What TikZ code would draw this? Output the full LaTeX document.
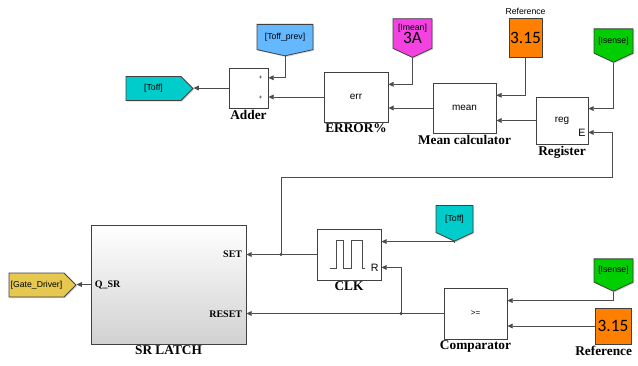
\documentclass[tikz,border=0pt]{standalone}
\usepackage{fontspec}
\setmainfont{Liberation Serif}
\setsansfont{Liberation Sans}
\newfontfamily\calib{Carlito}
\usetikzlibrary{positioning,shapes.symbols,arrows.meta,calc,shadows}

\definecolor{tagcyan}{RGB}{0,204,204}
\definecolor{tagblue}{RGB}{100,184,255}
\definecolor{tagmagenta}{RGB}{244,66,226}
\definecolor{taggreen}{RGB}{0,206,0}
\definecolor{tagyellow}{RGB}{230,200,80}
\definecolor{cstorange}{RGB}{255,128,0}

\begin{document}
\begin{tikzpicture}[x=0.75pt,y=0.75pt,yscale=-1,xscale=1,
  shd/.style={drop shadow={shadow xshift=0.9pt,shadow yshift=-0.9pt,opacity=0.3}},
  blk/.style={draw=black!75, fill=white, line width=0.6pt, inner sep=0pt, font=\sffamily\fontsize{7.5}{8}\selectfont, shd},
  tagr/.style={signal, signal to=east, signal pointer angle=90, draw=black!75, line width=0.6pt, inner sep=1pt, font=\sffamily\fontsize{6.5}{7}\selectfont, shd},
  tagd/.style={signal, signal to=south, signal pointer angle=130, draw=black!75, line width=0.6pt, inner sep=1pt, font=\sffamily\fontsize{6.5}{7}\selectfont, shd},
  cst/.style={draw=black!75, fill=cstorange, line width=0.6pt, inner sep=0pt, font=\calib\fontsize{13}{13}\selectfont, shd},
  lbl/.style={font=\bfseries\fontsize{10}{11}\selectfont, inner sep=1pt},
  port/.style={font=\bfseries\fontsize{7.5}{8}\selectfont, inner sep=1pt},
  sig/.style={draw=black!70, line width=0.6pt, -{Triangle[length=4pt,width=3.6pt]}},
  dot/.style={circle, fill=black!75, inner sep=0pt, minimum size=2.6pt}]
\useasboundingbox (0,0) rectangle (638,365);

% top row: register -> mean -> error -> adder
\node[tagr, fill=tagcyan, minimum width=67*0.75pt, minimum height=24*0.75pt] (toffA) at (153.5,88.5) {[Toff]};
\node[blk, minimum width=39*0.75pt, minimum height=40*0.75pt] (adder) at (248.5,88) {};
\node[tagd, fill=tagblue, signal pointer angle=155, minimum width=56*0.75pt, minimum height=30*0.75pt] (toffprev) at (285,37) {[Toff\_prev]};
\node[blk, minimum width=64*0.75pt, minimum height=50*0.75pt] (err) at (356,97) {err};
\node[tagd, fill=tagmagenta, align=center, minimum width=39*0.75pt, minimum height=37*0.75pt] (imean) at (412.5,33.5) {[Imean]\\[-1pt]{\calib\fontsize{13}{13}\selectfont 3A}};
\node[blk, minimum width=63*0.75pt, minimum height=50*0.75pt] (mean) at (464.5,108) {mean};
\node[cst, minimum width=33*0.75pt, minimum height=39*0.75pt] (ref1) at (525.5,37.5) {3.15};
\node[blk, minimum width=52*0.75pt, minimum height=47*0.75pt] (reg) at (562,120.5) {reg};
\node[tagd, fill=taggreen, minimum width=39*0.75pt, minimum height=32*0.75pt] (isense1) at (613.5,41) {[Isense]};

% bottom row: comparator -> clock -> latch
\node[tagr, fill=tagyellow, minimum width=67*0.75pt, minimum height=24*0.75pt] (gate) at (36.5,285) {[Gate\_Driver]};
\node[blk, top color=white, bottom color=black!18, minimum width=155*0.75pt, minimum height=119*0.75pt] (latch) at (168.5,284.5) {};
\node[blk, minimum width=64*0.75pt, minimum height=51*0.75pt] (clk) at (349,254.5) {};
\node[tagd, fill=tagcyan, minimum width=37*0.75pt, minimum height=32*0.75pt] (toff2) at (454.5,219) {[Toff]};
\node[blk, minimum width=63*0.75pt, minimum height=51*0.75pt] (comp) at (475.5,313.5) {\fontsize{6}{7}\selectfont >=};
\node[tagd, fill=taggreen, minimum width=39*0.75pt, minimum height=31*0.75pt] (isense2) at (613.5,270.5) {[Isense]};
\node[cst, minimum width=36*0.75pt, minimum height=36*0.75pt] (ref2) at (613,326) {3.15};

% input ports
\coordinate (adderIn1) at ($(adder.north east)!0.25!(adder.south east)$);
\coordinate (adderIn2) at ($(adder.north east)!0.75!(adder.south east)$);
\coordinate (errIn1) at ($(err.north east)!0.25!(err.south east)$);
\coordinate (meanIn1) at ($(mean.north east)!0.25!(mean.south east)$);
\coordinate (regIn1) at ($(reg.north east)!0.25!(reg.south east)$);
\coordinate (regIn2) at ($(reg.north east)!0.75!(reg.south east)$);
\coordinate (latchIn1) at ($(latch.north east)!0.25!(latch.south east)$);
\coordinate (latchIn2) at ($(latch.north east)!0.75!(latch.south east)$);
\coordinate (clkIn1) at ($(clk.north east)!0.25!(clk.south east)$);
\coordinate (clkIn2) at ($(clk.north east)!0.75!(clk.south east)$);
\coordinate (compIn1) at ($(comp.north east)!0.25!(comp.south east)$);
\coordinate (eTurn) at (612,177);

% block names
\node[lbl, below=0pt of adder] (adderName) {Adder};
\node[lbl, below=0pt of err] (errName) {ERROR\%};
\node[lbl, below=0pt of mean] (meanName) {Mean calculator};
\node[lbl, below=0pt of reg] (regName) {Register};
\node[font=\sffamily\fontsize{6.5}{7}\selectfont, inner sep=1pt, above=1pt of ref1] (ref1Name) {Reference};
\node[lbl, below=0pt of latch] (latchName) {SR LATCH};
\node[lbl, below=0pt of clk] (clkName) {CLK};
\node[lbl, below=0pt of comp] (compName) {Comparator};
\node[lbl, below=0pt of ref2, xshift=-7pt] (ref2Name) {Reference};

% port texts
\node[font=\sffamily\fontsize{4.5}{4.5}\selectfont, left=1pt of adderIn1] (plus1) {+};
\node[font=\sffamily\fontsize{4.5}{4.5}\selectfont, left=1pt of adderIn2] (plus2) {+};
\node[font=\sffamily\fontsize{8}{8}\selectfont, inner sep=0pt, left=2pt of regIn2] (regE) {E};
\node[font=\sffamily\fontsize{8}{8}\selectfont, inner sep=0pt, left=2pt of clkIn2] (clkR) {R};
\node[port, left=2pt of latchIn1] (setTxt) {SET};
\node[port, left=2pt of latchIn2] (resetTxt) {RESET};
\node[port, right=2pt of latch.west] (qTxt) {Q\_SR};

% pulse symbol
\draw[black!70, line width=0.6pt, shift={(clk.center)}] (-19,13.5) -- (-13,13.5) -- (-13,-14.5) -- (-6,-14.5) -- (-6,13.5) -- (2,13.5) -- (2,-14.5) -- (13,-14.5) -- (13,13.5) -- (16,13.5);

% connectors
\draw[sig] (adder.west) -- (adder.west -| toffA.east);
\draw[sig] (toffprev.south) |- (adderIn1);
\draw[sig] (err.west) -- (err.west -| adder.east);
\draw[sig] (imean.south) |- (errIn1);
\draw[sig] (mean.west) -- (mean.west -| err.east);
\draw[sig] (ref1.south) |- (meanIn1);
\draw[sig] (reg.west) -- (reg.west -| mean.east);
\draw[sig] (isense1.south) |- (regIn1);

\draw[sig] (clk.west) -- (clk.west -| latch.east);
\node[dot] (j1) at (clk.west -| 281,0) {};
\draw[sig] (j1.center) |- (eTurn) |- (regIn2);
\draw[sig] (toff2.south) |- (clkIn1);
\draw[sig] (comp.west) -- (comp.west -| latch.east);
\node[dot] (j2) at (comp.west -| 401,0) {};
\draw[sig] (j2.center) |- (clkIn2);
\draw[sig] (isense2.south) |- (compIn1);
\draw[sig] (ref2.west) -- (ref2.west -| comp.east);
\draw[sig] (latch.west) -- (latch.west -| gate.east);
\end{tikzpicture}
\end{document}
